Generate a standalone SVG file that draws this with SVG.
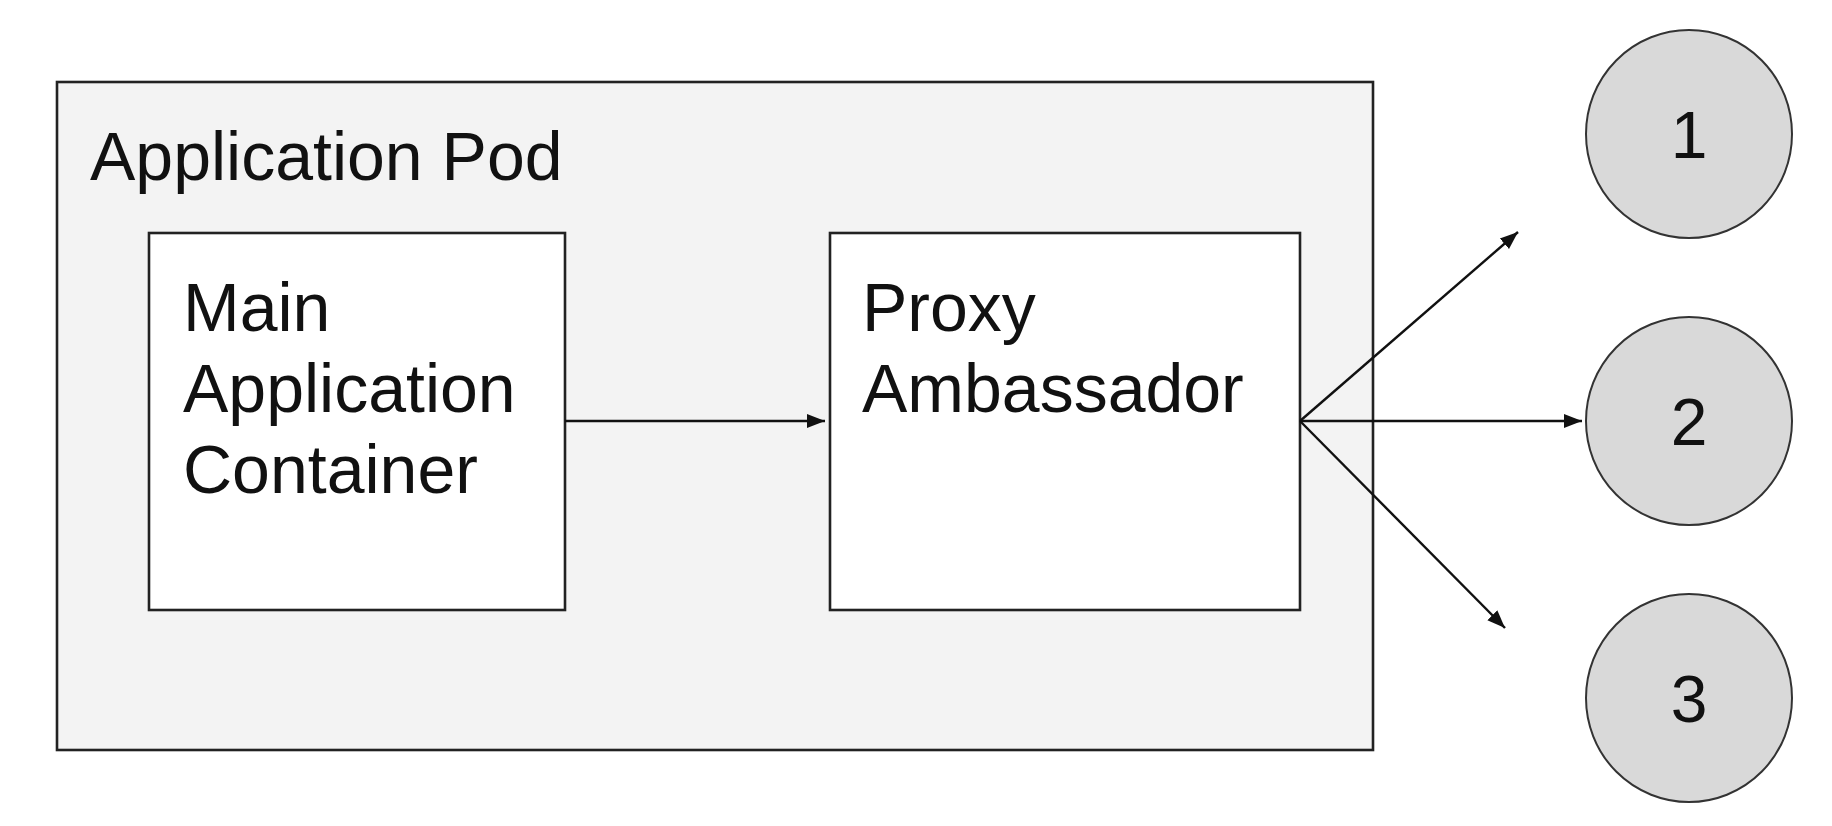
<svg xmlns="http://www.w3.org/2000/svg" width="1832" height="826" viewBox="0 0 1832 826">
<style>
.box{stroke:#222;stroke-width:2.6}
.lbl{font-family:"Liberation Sans",Arial,sans-serif;font-size:68px;fill:#111}
.num{font-family:"Liberation Sans",Arial,sans-serif;font-size:66px;fill:#111;text-anchor:middle}
.conn{stroke:#111;stroke-width:2.4;fill:none;marker-end:url(#ah)}
.node{fill:#d9d9d9;stroke:#333;stroke-width:2}
</style>
<defs>
<marker id="ah" markerUnits="userSpaceOnUse" markerWidth="20" markerHeight="16" refX="18" refY="7" orient="auto" viewBox="0 0 20 14">
<path d="M0,0 L18,7 L0,14 Z" fill="#111"/>
</marker>
</defs>
<rect width="1832" height="826" fill="#fff"/>
<g id="pod">
<rect class="box" x="57" y="82" width="1316" height="668" fill="#f3f3f3"/>
<text class="lbl" x="90" y="180">Application Pod</text>
</g>
<g id="main">
<rect class="box" x="149" y="233" width="416" height="377" fill="#fff"/>
<text class="lbl" x="183" y="331">Main</text>
<text class="lbl" x="183" y="412">Application</text>
<text class="lbl" x="183" y="493">Container</text>
</g>
<g id="proxy">
<rect class="box" x="830" y="233" width="470" height="377" fill="#fff"/>
<text class="lbl" x="862" y="331">Proxy</text>
<text class="lbl" x="862" y="412">Ambassador</text>
</g>
<g id="n1">
<ellipse class="node" cx="1689" cy="134" rx="103" ry="104"/>
<text class="num" x="1689" y="158">1</text>
</g>
<g id="n2">
<ellipse class="node" cx="1689" cy="421" rx="103" ry="104"/>
<text class="num" x="1689" y="445">2</text>
</g>
<g id="n3">
<ellipse class="node" cx="1689" cy="698" rx="103" ry="104"/>
<text class="num" x="1689" y="722">3</text>
</g>
<g id="connectors">
<line class="conn" x1="565" y1="421" x2="825" y2="421"/>
<line class="conn" x1="1300" y1="421" x2="1518" y2="232"/>
<line class="conn" x1="1300" y1="421" x2="1582" y2="421"/>
<line class="conn" x1="1300" y1="421" x2="1505" y2="628"/>
</g>
</svg>
